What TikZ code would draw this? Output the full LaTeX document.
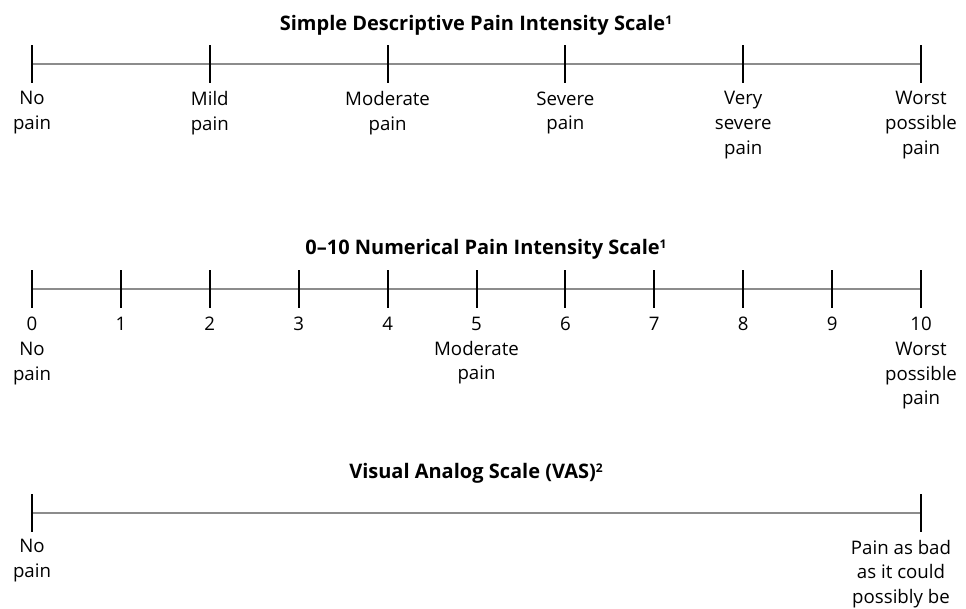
\documentclass[tikz,border=0pt]{standalone}
\usepackage{fontspec}
\setmainfont{Open Sans}
\newcommand{\refmark}[1]{\raisebox{0.55ex}{\fontsize{9}{9}\selectfont\bfseries #1}}

\tikzset{
  scaleline/.style={draw=black!45, line width=0.9pt},
  tickmark/.style={draw=black, line width=1.5pt},
  scaletitle/.style={anchor=base, inner sep=0pt, font=\bfseries\fontsize{15}{18}\selectfont},
  painlabel/.style={anchor=north, align=center, inner sep=0pt, font=\fontsize{14}{18.5}\selectfont},
}

\begin{document}
\begin{tikzpicture}[x=0.75pt,y=-0.75pt]
\useasboundingbox (0,0) rectangle (966,608);

% simple descriptive scale
\node[scaletitle] (title1) at (476,30) {Simple Descriptive Pain Intensity Scale\refmark{1}};
\coordinate (d0) at (32,64);
\coordinate (d5) at (921,64);
\draw[scaleline] (d0) -- (d5);
\foreach \i/\txt in {0/{No\\pain}, 1/{Mild\\pain}, 2/{Moderate\\pain}, 3/{Severe\\pain}, 4/{Very\\severe\\pain}, 5/{Worst\\possible\\pain}} {
  \coordinate (dt\i) at ({32+177.8*\i},64);
  \draw[tickmark] ([yshift=-14]dt\i) -- ([yshift=14]dt\i);
  \node[painlabel] (dl\i) at ([yshift=-20.5]dt\i) {\txt};
}

% numerical scale
\node[scaletitle] (title2) at (486,254) {0--10 Numerical Pain Intensity Scale\refmark{1}};
\coordinate (n0) at (32,289);
\coordinate (n10) at (921,289);
\draw[scaleline] (n0) -- (n10);
\foreach \i/\txt in {0/{0\\No\\pain}, 1/1, 2/2, 3/3, 4/4, 5/{5\\Moderate\\pain}, 6/6, 7/7, 8/8, 9/9, 10/{10\\Worst\\possible\\pain}} {
  \coordinate (nt\i) at ({32+88.9*\i},289);
  \draw[tickmark] ([yshift=-14]nt\i) -- ([yshift=14]nt\i);
  \node[painlabel] (nl\i) at ([yshift=-21]nt\i) {\txt};
}

% visual analog scale
\node[scaletitle] (title3) at (476,478) {Visual Analog Scale (VAS)\refmark{2}};
\coordinate (v0) at (32,513);
\coordinate (v1) at (921,513);
\draw[scaleline] (v0) -- (v1);
\draw[tickmark] ([yshift=-14]v0) -- ([yshift=14]v0);
\draw[tickmark] ([yshift=-14]v1) -- ([yshift=14]v1);
\node[painlabel] (vl0) at ([yshift=-19.5]v0) {No\\pain};
\node[painlabel] (vl1) at ([xshift=-15,yshift=-20]v1) {Pain as bad\\as it could\\possibly be};
\end{tikzpicture}
\end{document}
